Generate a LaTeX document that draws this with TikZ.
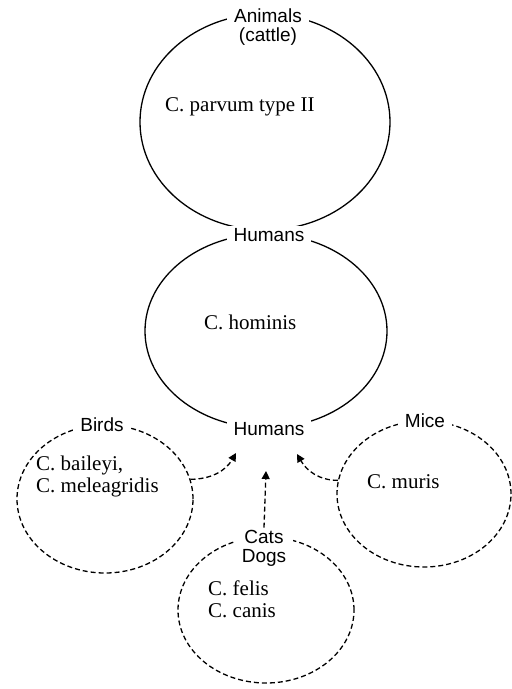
\documentclass[tikz,border=0pt]{standalone}
\usepackage{fontspec}
\setmainfont{Liberation Serif}
\setsansfont{Liberation Sans}
\usetikzlibrary{arrows.meta,shapes.geometric}

\begin{document}
\begin{tikzpicture}[x=1pt, y=-1pt,
    host/.style={draw, ellipse, line width=1.3pt, inner sep=0pt},
    dhost/.style={host, dash pattern=on 5pt off 3pt},
    tag/.style={fill=white, inner xsep=7pt, inner ysep=2pt, align=center, font=\sffamily\fontsize{19}{19}\selectfont},
    spec/.style={anchor=west, inner sep=0pt, align=left, font=\fontsize{21}{22}\selectfont},
    conn/.style={line width=1.3pt, dash pattern=on 5pt off 3pt, -{Triangle[length=8pt,width=8pt]}}]
    \useasboundingbox (0,0) rectangle (512,689);
    % main cycle
    \node[host, minimum width=250pt, minimum height=216pt] (cattle) at (265,122) {};
    \node[host, minimum width=242pt, minimum height=194pt] (hominis) at (266,331) {};
    \node[tag] (animals) at (268,27) {Animals\\(cattle)};
    \node[tag] (hum1) at (269,235) {Humans};
    \node[tag] (hum2) at (269,429) {Humans};
    \node[spec] (parvum) at (165,107) {C. parvum type II};
    \node[spec] (homtxt) at (204,322) {C. hominis};
    % other hosts
    \node[dhost, minimum width=176pt, minimum height=148pt] (birds) at (105,499) {};
    \node[dhost, minimum width=174pt, minimum height=146pt] (mice) at (424,494) {};
    \node[dhost, minimum width=176pt, minimum height=146pt] (cats) at (266,610) {};
    \node[tag] (birdlab) at (102,425) {Birds};
    \node[tag] (micelab) at (425,421) {Mice};
    \node[tag] (catlab) at (264,548) {Cats\\Dogs};
    \node[spec] (baileyi) at (36,476) {C. baileyi,\\C. meleagridis};
    \node[spec] (muris) at (367,482) {C. muris};
    \node[spec] (felis) at (208,599) {C. felis\\C. canis};
    % arrows towards humans
    \coordinate (tipL) at (236,453);
    \coordinate (tipM) at (266,471);
    \coordinate (tipR) at (297,454);
    \draw[conn] (birds.13) to[out=0,in=-120] (tipL);
    \draw[conn] (catlab.north) -- (tipM);
    \draw[conn] (mice.171) to[out=180,in=-60] (tipR);
\end{tikzpicture}
\end{document}
